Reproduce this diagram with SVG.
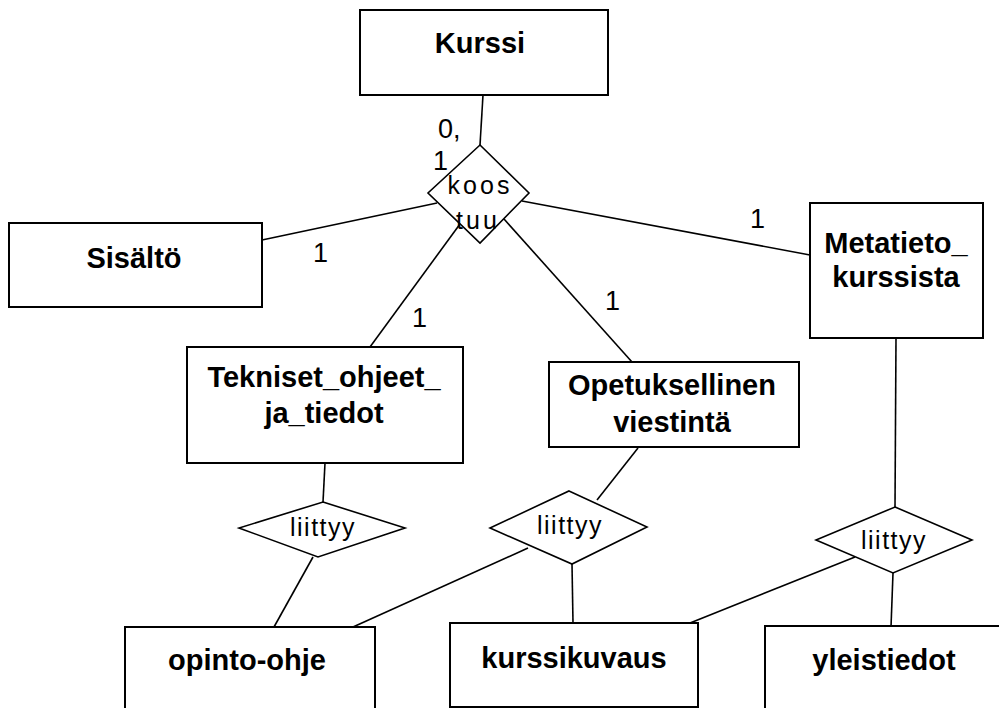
<svg xmlns="http://www.w3.org/2000/svg" width="999" height="708" viewBox="0 0 999 708">
<style>
.box{fill:#fff;stroke:#000;stroke-width:2}
.dia{fill:#fff;stroke:#000;stroke-width:1.6}
.ln{stroke:#000;stroke-width:1.6;fill:none}
.t{font-family:"Liberation Sans",Arial,sans-serif;font-weight:bold;font-size:29px;text-anchor:middle;fill:#000}
.r{font-family:"Liberation Sans",Arial,sans-serif;font-size:25px;text-anchor:middle;letter-spacing:1.5px;fill:#000}
.c{font-family:"Liberation Sans",Arial,sans-serif;font-size:27px;fill:#000}
</style>
<rect width="999" height="708" fill="#fff"/>
<g id="connectors">
<line class="ln" x1="483" y1="95" x2="480" y2="145"/>
<line class="ln" x1="262" y1="240" x2="437" y2="203"/>
<line class="ln" x1="522" y1="201" x2="810" y2="255"/>
<line class="ln" x1="460" y1="224" x2="370" y2="347"/>
<line class="ln" x1="504" y1="219" x2="632" y2="362"/>
<line class="ln" x1="325" y1="463" x2="323" y2="502"/>
<line class="ln" x1="313" y1="557" x2="274" y2="627"/>
<line class="ln" x1="638" y1="448" x2="597" y2="500"/>
<line class="ln" x1="528" y1="548" x2="353" y2="627"/>
<line class="ln" x1="572" y1="564" x2="573" y2="623"/>
<line class="ln" x1="896" y1="338" x2="895" y2="507"/>
<line class="ln" x1="893" y1="573" x2="891" y2="627"/>
<line class="ln" x1="855" y1="557" x2="690" y2="623"/>
</g>
<g id="labels">
<text class="c" x="438" y="138">0,</text>
<text class="c" x="433" y="170">1</text>
<text class="c" x="313" y="262">1</text>
<text class="c" x="412" y="327">1</text>
<text class="c" x="605" y="310">1</text>
<text class="c" x="750" y="228">1</text>
</g>
<g id="kurssi"><rect class="box" x="360" y="10" width="248" height="85"/><text class="t" x="480" y="53">Kurssi</text></g>
<g id="koostuu"><polygon class="dia" points="480,145 529,193 480,243 428,193"/><text class="r" x="480" y="194" style="letter-spacing:3px">koos</text><text class="r" x="478" y="229" style="letter-spacing:3px">tuu</text></g>
<g id="sisalto"><rect class="box" x="9" y="223" width="253" height="84"/><text class="t" x="134" y="268">Sisältö</text></g>
<g id="metatieto"><rect class="box" x="810" y="203" width="173" height="135"/><text class="t" x="896" y="253">Metatieto_</text><text class="t" x="896" y="287">kurssista</text></g>
<g id="tekniset"><rect class="box" x="187" y="347" width="276" height="116"/><text class="t" x="324" y="387">Tekniset_ohjeet_</text><text class="t" x="324" y="423">ja_tiedot</text></g>
<g id="opetuksellinen"><rect class="box" x="549" y="362" width="250" height="85"/><text class="t" x="672" y="395">Opetuksellinen</text><text class="t" x="672" y="432">viestintä</text></g>
<g id="liittyy1"><polygon class="dia" points="323,502 405,528 318,557 239,528"/><text class="r" x="323" y="536">liittyy</text></g>
<g id="liittyy2"><polygon class="dia" points="569,491 647,527 572,564 490,528"/><text class="r" x="570" y="534">liittyy</text></g>
<g id="liittyy3"><polygon class="dia" points="895,507 972,540 893,573 816,540"/><text class="r" x="894" y="549">liittyy</text></g>
<g id="opinto-ohje"><rect class="box" x="125" y="627" width="250" height="100"/><text class="t" x="247" y="670">opinto-ohje</text></g>
<g id="kurssikuvaus"><rect class="box" x="450" y="623" width="248" height="84"/><text class="t" x="574" y="668">kurssikuvaus</text></g>
<g id="yleistiedot"><rect class="box" x="765" y="626" width="260" height="100"/><text class="t" x="884" y="670">yleistiedot</text></g>
</svg>
